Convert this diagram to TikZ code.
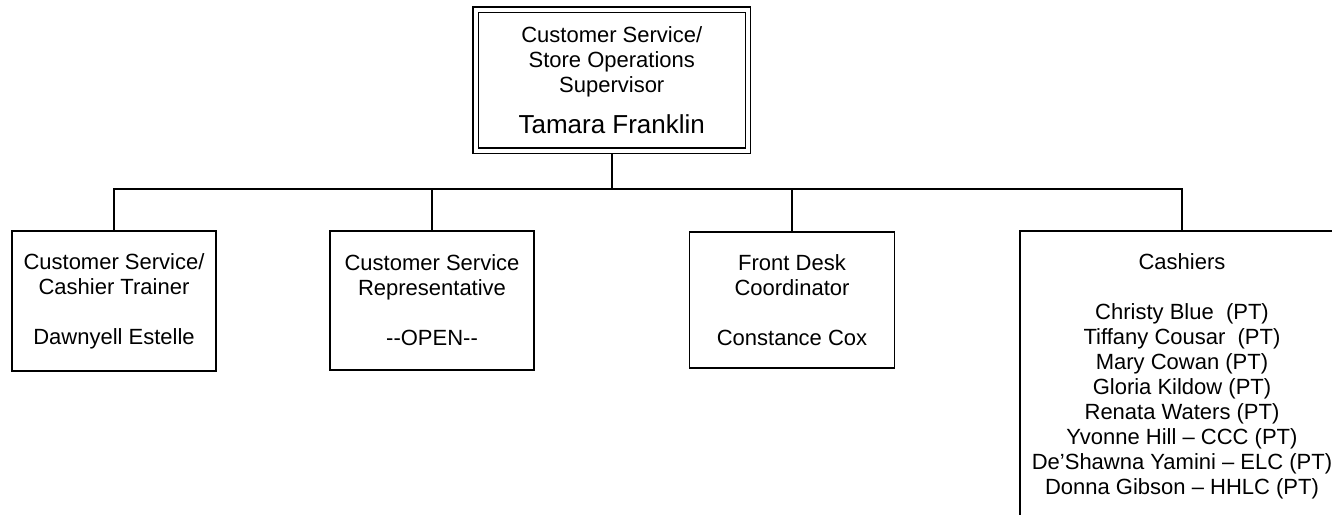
\documentclass[tikz,border=0pt]{standalone}
\usepackage{fontspec}
\setmainfont{Liberation Sans}
\begin{document}
\begin{tikzpicture}[x=0.5pt,y=-0.5pt,
  box/.style={draw=black, line width=0.75pt, inner sep=0pt, align=center,
    font=\fontsize{11}{12.5}\selectfont},
  topbox/.style={draw=black, line width=0.7pt, double, double distance=2pt,
    inner sep=0pt, outer sep=1.7pt, align=center,
    font=\fontsize{11}{12.5}\selectfont},
  link/.style={draw=black, line width=0.75pt}]
\useasboundingbox (0,0) rectangle (1332,514);
\clip (0,0) rectangle (1332,514);

\node[topbox, minimum width=136.25pt, minimum height=70.5pt] (top) at (611.75,80)
  {Customer Service/\\Store Operations\\Supervisor\\[8pt]{\fontsize{13}{15}\selectfont Tamara Franklin}};

\node[box, minimum width=102pt, minimum height=70pt] (b1) at (114,301)
  {Customer Service/\\Cashier Trainer\\[12.5pt]Dawnyell Estelle};
\node[box, minimum width=102pt, minimum height=69.5pt] (b2) at (432,300.5)
  {Customer Service\\Representative\\[12.5pt]-\kern0pt-OPEN-\kern0pt-};
\node[box, minimum width=102.5pt, minimum height=68pt] (b3) at (792,300)
  {Front Desk\\Coordinator\\[12.5pt]Constance Cox};
\node[box, minimum width=162pt, minimum height=145pt] (b4) at (1182,376)
  {Cashiers\\[12.5pt]Christy Blue\ \ (PT)\\Tiffany Cousar\ \ (PT)\\Mary Cowan (PT)\\Gloria Kildow (PT)\\Renata Waters (PT)\\Yvonne Hill – CCC (PT)\\De’Shawna Yamini – ELC (PT)\\Donna Gibson – HHLC (PT)};

\coordinate (bus) at (612,189);
\draw[link] (top.south) -- (top.south |- bus);
\draw[link] (b1.north) -- (b1.north |- bus) -- (b4.north |- bus) -- (b4.north);
\draw[link] (b2.north) -- (b2.north |- bus);
\draw[link] (b3.north) -- (b3.north |- bus);
\end{tikzpicture}
\end{document}
